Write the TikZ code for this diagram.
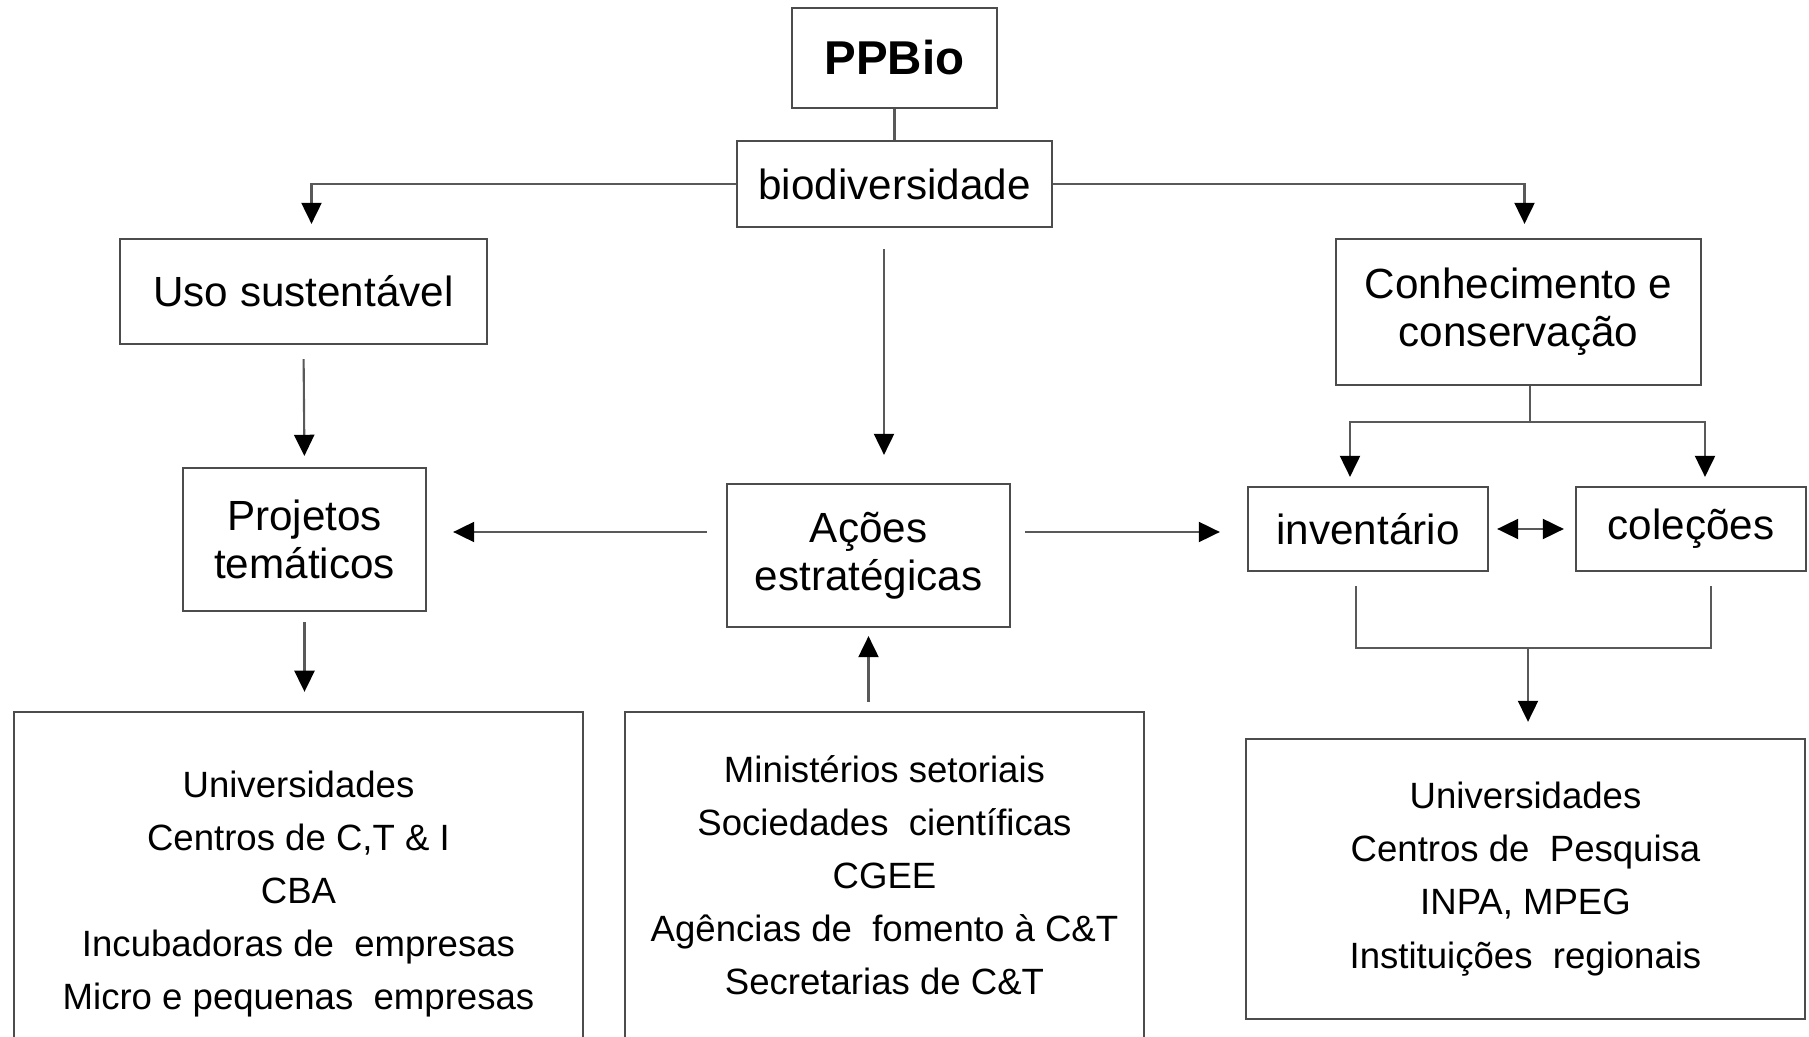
\documentclass[tikz,border=0pt]{standalone}
\usepackage{fontspec}
\setmainfont{Liberation Sans}
\usetikzlibrary{arrows.meta,positioning,calc}

\begin{document}
\begin{tikzpicture}[x=0.01cm, y=-0.01cm,
    box/.style={draw=black!70, line width=0.6pt, align=center, inner sep=0pt,
        font=\fontsize{12}{13.7}\selectfont},
    listbox/.style={box, font=\fontsize{10.4}{15.1}\selectfont},
    link/.style={draw=black!65, line width=0.6pt},
    arr/.style={link, -{Triangle[length=6pt, width=5.7pt, color=black]}},
    twoarr/.style={link, {Triangle[length=6pt, width=5.7pt, color=black]}-{Triangle[length=6pt, width=5.7pt, color=black]}}
  ]
    \clip (0,0) rectangle (1809,1037);

    % Top of the tree
    \node[box, minimum width=2.05cm, minimum height=1cm,
        font=\fontsize{13.5}{15}\selectfont\bfseries] (ppbio) at (894.5,58) {PPBio};
    \node[box, minimum width=3.15cm, minimum height=0.86cm] (bio) at (894.5,184) {biodiversidade};

    % Second level
    \node[box, minimum width=3.67cm, minimum height=1.05cm] (uso) at (303.5,291.5) {Uso sustentável};
    \node[box, minimum width=3.65cm, minimum height=1.46cm] (conh) at (1518.5,312) {Conhecimento e\\conservação};

    % Third level
    \node[box, minimum width=2.43cm, minimum height=1.43cm] (proj) at (304.5,539.5) {Projetos\\temáticos};
    \node[box, minimum width=2.83cm, minimum height=1.43cm] (acoes) at (868.5,555.5) {Ações\\estratégicas};
    \node[box, minimum width=2.40cm, minimum height=0.84cm] (inv) at (1368,529) {inventário};
    \node[box, minimum width=2.30cm, minimum height=0.84cm] (col) at (1691,529) {coleções};

    % Actors (bottom row)
    \node[listbox, minimum width=5.69cm, minimum height=3.64cm] (lbox) at (298.5,894) {Universidades\\Centros de C,T \& I\\CBA\\Incubadoras de\ \ empresas\\Micro e pequenas\ \ empresas};
    \node[listbox, minimum width=5.19cm, minimum height=3.27cm] (mbox) at (884.5,875.5) {Ministérios setoriais\\Sociedades\ \ científicas\\CGEE\\Agências de\ \ fomento à C\&T\\Secretarias de C\&T};
    \node[listbox, minimum width=5.59cm, minimum height=2.80cm] (rbox) at (1525.5,879) {Universidades\\Centros de\ \ Pesquisa\\INPA, MPEG\\Instituições\ \ regionais};

    % Links from the top
    \draw[link] (ppbio.south) -- (bio.north);
    \draw[arr, shorten >=0.14cm] (bio.west) -| ($(uso.north)+(8,0)$);
    \draw[arr, shorten >=0.14cm] (bio.east) -| ($(conh.north)+(6,0)$);
    \draw[arr] ($(bio.south)+(-10.5,21)$) -- ($(acoes.north)+(15.5,-28)$);

    % Left branch
    \draw[arr, shorten <=0.14cm, shorten >=0.11cm] (uso.south) -- (proj.north);
    \draw[arr, shorten <=0.10cm, shorten >=0.19cm] (proj.south) -- (proj.south |- lbox.north);

    % Middle branch
    \coordinate (lvl) at ($(acoes.west)+(0,-23.5)$);
    \draw[arr, shorten <=0.19cm, shorten >=0.26cm] (lvl) -- (lvl -| proj.east);
    \draw[arr, shorten <=0.14cm, shorten >=0.27cm] (lvl -| acoes.east) -- (lvl -| inv.west);
    \draw[arr, shorten <=0.09cm, shorten >=0.08cm] (acoes.south |- mbox.north) -- (acoes.south);

    % Right branch
    \coordinate (split) at ($(conh.south)+(11.5,36)$);
    \draw[link] ($(conh.south)+(11.5,0)$) -- (split);
    \draw[arr, shorten >=0.09cm] (split) -| ($(inv.north)+(-18,0)$);
    \draw[arr, shorten >=0.09cm] (split) -| ($(col.north)+(14,0)$);
    \draw[twoarr, shorten <=0.08cm, shorten >=0.11cm] (inv.east) -- (col.west);

    \coordinate (join) at (1528,648);
    \draw[link] ($(inv.south)+(-12,14)$) |- (join) -| ($(col.south)+(20,14)$);
    \draw[arr, shorten >=0.16cm] (join) -- (join |- rbox.north);
\end{tikzpicture}
\end{document}
